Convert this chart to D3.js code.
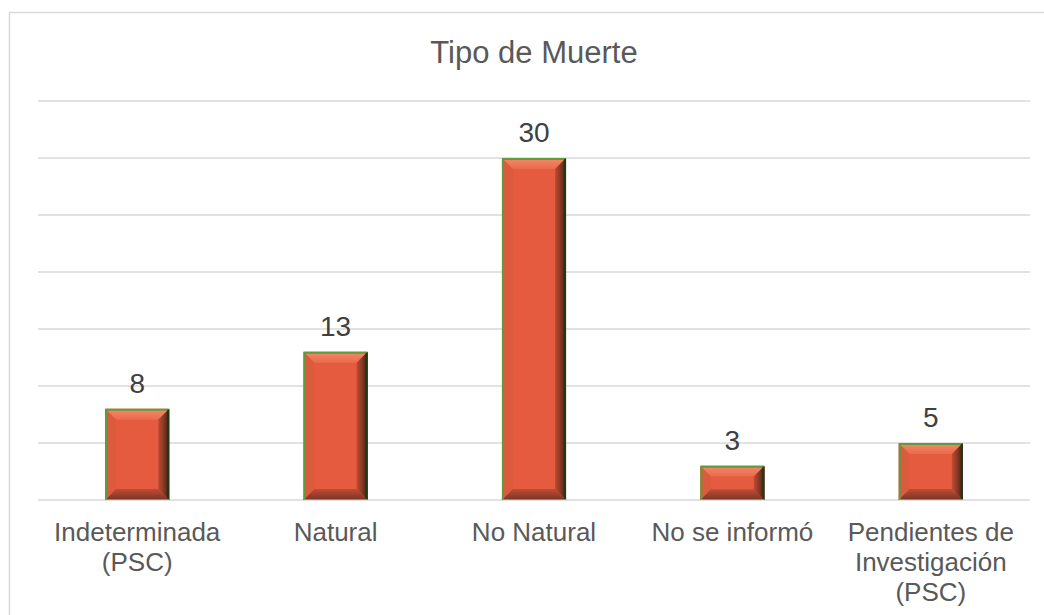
<!DOCTYPE html>
<html><head><meta charset="utf-8">
<script src="https://cdn.jsdelivr.net/npm/d3@7"></script>
<style>body{margin:0;background:#fff;} svg{display:block;font-family:"Liberation Sans",Arial,sans-serif;}</style>
</head><body>
<script>
const categories = [["Indeterminada","(PSC)"],["Natural"],["No Natural"],["No se informó"],["Pendientes de","Investigación","(PSC)"]];
const values = [8, 13, 30, 3, 5];
const yTicks = [0, 5, 10, 15, 20, 25, 30, 35];
const title = "Tipo de Muerte";

const W = 1044, H = 615;
const svg = d3.select("body").append("svg").attr("width", W).attr("height", H);
const defs = svg.append("defs");
const gR = defs.append("linearGradient").attr("id","gr").attr("x1","0").attr("x2","1").attr("y1","0").attr("y2","0");
gR.append("stop").attr("offset","0").attr("stop-color","#c24a32");
gR.append("stop").attr("offset","0.6").attr("stop-color","#7a3522");
gR.append("stop").attr("offset","1").attr("stop-color","#2e1d12");
const gB = defs.append("linearGradient").attr("id","gb").attr("x1","0").attr("x2","0").attr("y1","0").attr("y2","1");
gB.append("stop").attr("offset","0").attr("stop-color","#c04c34");
gB.append("stop").attr("offset","1").attr("stop-color","#7a3424");
const gT = defs.append("linearGradient").attr("id","gt").attr("x1","0").attr("x2","0").attr("y1","0").attr("y2","1");
gT.append("stop").attr("offset","0").attr("stop-color","#f38a6c");
gT.append("stop").attr("offset","1").attr("stop-color","#ea6a4c");

// chart frame
svg.append("path").attr("d","M9.5,615 V12.5 H1044").attr("fill","none").attr("stroke","#d9d9d9").attr("stroke-width",1.5);

const x = d3.scaleBand().domain(d3.range(values.length)).range([38, 1030]).paddingInner(0.677).paddingOuter(0.3385);
const y = d3.scaleLinear().domain([0, 35]).range([500, 101]);

svg.append("g").selectAll("line").data(yTicks).join("line")
  .attr("x1", 38).attr("x2", 1030)
  .attr("y1", d => y(d)).attr("y2", d => y(d))
  .attr("stroke", "#d9d9d9").attr("stroke-width", 1.5);

svg.append("text").attr("x", 534).attr("y", 63).attr("text-anchor","middle")
  .attr("font-size", 31).attr("fill", "#595959").text(title);

const bars = svg.append("g").selectAll("g").data(values).join("g");
bars.each(function(v, i) {
  const g = d3.select(this);
  const x0 = x(i), x1 = x(i) + x.bandwidth();
  const y0 = y(v), y1 = y(0);
  const b = Math.min(11, (y1 - y0) / 3.2);
  const pts = a => a.map(p => p.join(",")).join(" ");
  g.append("rect").attr("x", x0).attr("y", y0).attr("width", x1 - x0).attr("height", y1 - y0).attr("fill", "#e55b3f");
  g.append("polygon").attr("points", pts([[x0,y0],[x0+b,y0+b],[x0+b,y1-b],[x0,y1]])).attr("fill", "#dc5a3d");
  g.append("polygon").attr("points", pts([[x0,y0],[x1,y0],[x1-b,y0+b],[x0+b,y0+b]])).attr("fill", "url(#gt)");
  g.append("polygon").attr("points", pts([[x0,y1],[x0+b,y1-b],[x1-b,y1-b],[x1,y1]])).attr("fill", "url(#gb)");
  g.append("polygon").attr("points", pts([[x1,y0],[x1,y1],[x1-b,y1-b],[x1-b,y0+b]])).attr("fill", "url(#gr)");
  g.append("path").attr("d", `M${x0+1},${y1} V${y0+1} H${x1-1}`).attr("fill","none").attr("stroke","#5f9a3c").attr("stroke-width",2);
  g.append("path").attr("d", `M${x1-1},${y0+1} V${y1}`).attr("fill","none").attr("stroke","#203a14").attr("stroke-width",2);
  g.append("path").attr("d", `M${x0},${y1-0.5} H${x1}`).attr("fill","none").attr("stroke","#7a9a5a").attr("stroke-width",1);
  g.append("text").attr("x", (x0 + x1) / 2).attr("y", y0 - 16).attr("text-anchor","middle")
    .attr("font-size", 28).attr("fill", "#404040").text(v);
});

const lab = svg.append("g").selectAll("text").data(categories).join("text")
  .attr("text-anchor","middle").attr("font-size", 26).attr("fill", "#595959");
lab.each(function(lines, i) {
  const t = d3.select(this);
  lines.forEach((l, j) => {
    t.append("tspan").attr("x", x(i) + x.bandwidth() / 2).attr("y", 541 + j * 30).text(l);
  });
});
</script>
</body></html>
